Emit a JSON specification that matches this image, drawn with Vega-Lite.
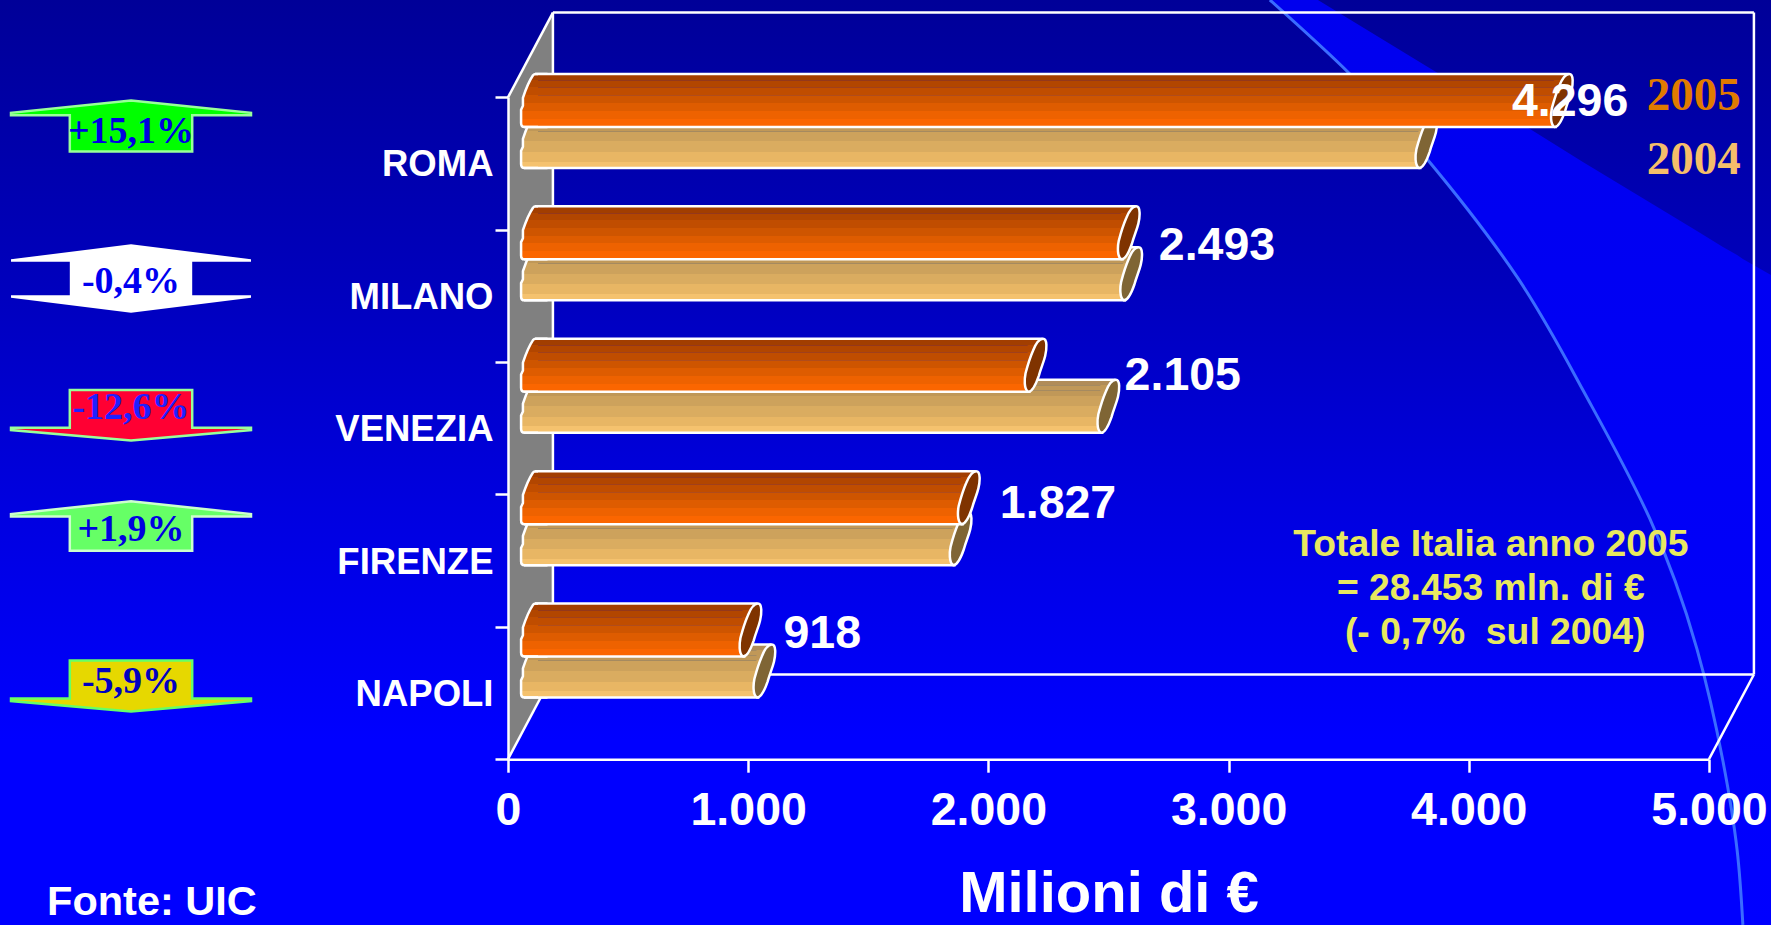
{
"$schema":"https://vega.github.io/schema/vega-lite/v6.json",
"width":1771,"height":925,"padding":0,"autosize":{"type":"none"},
"background":"#0000c0",
"datasets":{
"bars":[
{"city":"ROMA","year":2005,"value":4296,"label":"4.296"},
{"city":"MILANO","year":2005,"value":2493,"label":"2.493"},
{"city":"VENEZIA","year":2005,"value":2105,"label":"2.105"},
{"city":"FIRENZE","year":2005,"value":1827,"label":"1.827"},
{"city":"NAPOLI","year":2005,"value":918,"label":"918"},
{"city":"ROMA","year":2004,"value":3732},
{"city":"MILANO","year":2004,"value":2503},
{"city":"VENEZIA","year":2004,"value":2408},
{"city":"FIRENZE","year":2004,"value":1793},
{"city":"NAPOLI","year":2004,"value":976}
],
"notes":[
{"city":"ROMA","delta":"+15,1%","value":-1569.5},
{"city":"MILANO","delta":"-0,4%","value":-1569.5},
{"city":"VENEZIA","delta":"-12,6%","value":-1569.5},
{"city":"FIRENZE","delta":"+1,9%","value":-1569.5},
{"city":"NAPOLI","delta":"-5,9%","value":-1569.5}
],
"frame":[
{"seg":"top","o":0,"x":187,"y":5.64},{"seg":"top","o":1,"x":5187,"y":5.64},
{"seg":"right","o":0,"x":5187,"y":5.64},{"seg":"right","o":1,"x":5187,"y":0.64},
{"seg":"floor","o":0,"x":187,"y":0.64},{"seg":"floor","o":1,"x":5187,"y":0.64},
{"seg":"back","o":0,"x":187,"y":5.64},{"seg":"back","o":1,"x":187,"y":0.64},
{"seg":"d1","o":0,"x":0,"y":5},{"seg":"d1","o":1,"x":187,"y":5.64},
{"seg":"d2","o":0,"x":0,"y":0},{"seg":"d2","o":1,"x":187,"y":0.64},
{"seg":"d3","o":0,"x":5000,"y":0},{"seg":"d3","o":1,"x":5187,"y":0.64}
],
"wall":[{"x":0,"y":0,"y2":5},{"x":187,"y":0.64,"y2":5.64}],
"bright":[
{"x":3172,"y":5.735,"y2":5.735},{"x":3372,"y":5.735,"y2":5.40},{"x":3505,"y":5.587,"y2":5.176},
{"x":3826,"y":5.233,"y2":4.534},{"x":4201,"y":4.821,"y2":3.643},{"x":4475,"y":4.511,"y2":2.789},
{"x":4754,"y":4.205,"y2":1.815},{"x":4950,"y":3.99,"y2":0.832},{"x":5058,"y":3.869,"y2":-0.014},
{"x":5117,"y":3.809,"y2":-0.686},{"x":5141,"y":3.778,"y2":-1.252},{"x":5258,"y":3.657,"y2":-1.252}
],
"arc":[
{"x":3172,"y":5.735},{"x":3505,"y":5.176},{"x":3826,"y":4.534},{"x":4201,"y":3.643},{"x":4475,"y":2.789},
{"x":4754,"y":1.815},{"x":4950,"y":0.832},{"x":5058,"y":-0.014},{"x":5117,"y":-0.686},{"x":5141,"y":-1.252}
]
},
"resolve":{"scale":{"y":"independent"},"axis":{"x":"independent"}},
"layer":[
{"data":{"values":[{}]},"mark":{"type":"rect","fill":{"gradient":"linear","x1":0,"y1":0,"x2":0,"y2":1,"stops":[{"offset":0,"color":"#000098"},{"offset":0.3,"color":"#0000BC"},{"offset":0.55,"color":"#0000E0"},{"offset":0.8,"color":"#0000FF"},{"offset":1,"color":"#0000FF"}]}}},
{"encoding":{
"x":{"field":"x","type":"quantitative","scale":{"domain":[0,5000],"range":[508,1709],"nice":false,"zero":false},"axis":null},
"y":{"field":"y","type":"quantitative","scale":{"domain":[0,5],"range":[759.2,97.3],"nice":false,"zero":false},"axis":null}},
"layer":[
{"data":{"name":"bright"},"mark":{"type":"area","fill":{"gradient":"linear","x1":0,"y1":0,"x2":0,"y2":1,"stops":[{"offset":0,"color":"#0000EE"},{"offset":1,"color":"#0000FF"}]}},"encoding":{"y2":{"field":"y2"}}},
{"data":{"name":"arc"},"mark":{"type":"line","color":"#3A6CFF","strokeWidth":3,"interpolate":"natural"}},
{"data":{"name":"wall"},"mark":{"type":"area","color":"#808080"},"encoding":{"y2":{"field":"y2"}}},
{"data":{"name":"frame"},"mark":{"type":"line","color":"#FFFFFF","strokeWidth":2.5},"encoding":{"detail":{"field":"seg"},"order":{"field":"o"}}},
{"data":{"values":[{"x":4937,"y":5.01,"t":"2005"}]},"mark":{"type":"text","font":"Liberation Serif","fontWeight":"bold","fontSize":47,"color":"#E07B00","align":"center","baseline":"middle"},"encoding":{"text":{"field":"t"}}},
{"data":{"values":[{"x":4937,"y":4.527,"t":"2004"}]},"mark":{"type":"text","font":"Liberation Serif","fontWeight":"bold","fontSize":47,"color":"#F5BE6A","align":"center","baseline":"middle"},"encoding":{"text":{"field":"t"}}},
{"data":{"values":[{"x":4092,"y":1.618,"t":"Totale Italia anno 2005"},{"x":4092,"y":1.286,"t":"= 28.453 mln. di €"},{"x":4110,"y":0.954,"t":"(- 0,7%\u00a0 sul 2004)"}]},"mark":{"type":"text","font":"Liberation Sans","fontWeight":"bold","fontSize":37.3,"color":"#E8E860","align":"center","baseline":"middle"},"encoding":{"text":{"field":"t"}}},
{"data":{"values":[{"x":-1919,"y":-1.09,"t":"Fonte: UIC"}]},"mark":{"type":"text","font":"Liberation Sans","fontWeight":"bold","fontSize":41.5,"color":"#FFFFFF","align":"left","baseline":"middle"},"encoding":{"text":{"field":"t"}}}
]},
{"data":{"name":"bars"},
"encoding":{
"x":{"field":"value","type":"quantitative","scale":{"domain":[0,5000],"range":[508,1709],"nice":false,"zero":false},"axis":null},
"x2":{"datum":0},
"y":{"field":"city","type":"nominal","sort":null,"scale":{"domain":["ROMA","MILANO","VENEZIA","FIRENZE","NAPOLI"],"range":[97.3,759.2],"paddingInner":0,"paddingOuter":0},
"axis":{"title":null,"orient":"left","offset":-508,"tickBand":"extent","tickSize":13,"tickWidth":2.5,"tickColor":"#FFFFFF","domainColor":"#FFFFFF","domainWidth":2.5,"grid":false,"labelColor":"#FFFFFF","labelFont":"Liberation Sans","labelFontWeight":"bold","labelFontSize":36.5,"labelPadding":2,"labelOffset":1.5,"labelOverlap":false,"labelBound":false,"zindex":1}}},
"layer":[
{"transform":[{"filter":"datum.year==2004"}],"layer":[
{"mark":{"type":"point","shape":"M-0.32 1 Q-0.45 1 -0.45 0.85 L-0.45 0.35 L-0.38 0.2 L-0.38 -0.1 Q-0.2 -0.65 0 -0.95 Q0.04 -1 0.1 -1 L0.5 -1 L0.5 1 Z","size":2809,"opacity":1,"filled":true,"fill":{"gradient":"linear","x1":0,"y1":0,"x2":0,"y2":1,"stops":[{"offset":0,"color":"#B08C58"},{"offset":0.1,"color":"#B08C58"},{"offset":0.1,"color":"#C09858"},{"offset":0.3,"color":"#C09858"},{"offset":0.3,"color":"#CDA25C"},{"offset":0.5,"color":"#CDA25C"},{"offset":0.5,"color":"#DAAC60"},{"offset":0.7,"color":"#DAAC60"},{"offset":0.7,"color":"#E8B664"},{"offset":0.88,"color":"#E8B664"},{"offset":0.88,"color":"#F5C26E"},{"offset":1,"color":"#F5C26E"}]},"stroke":"#FFFFFF","strokeWidth":2.5,"xOffset":25,"yOffset":-22},"encoding":{"x":{"datum":0,"type":"quantitative","scale":{"domain":[0,5000],"range":[508,1709],"nice":false,"zero":false},"axis":null},"x2":null}},
{"mark":{"type":"bar","height":53,"xOffset":16,"x2Offset":30,"yOffset":-22,"cornerRadius":0,"fill":{"gradient":"linear","x1":0,"y1":0,"x2":0,"y2":1,"stops":[{"offset":0,"color":"#B08C58"},{"offset":0.1,"color":"#B08C58"},{"offset":0.1,"color":"#A58A60"},{"offset":0.115,"color":"#A58A60"},{"offset":0.115,"color":"#C09858"},{"offset":0.2,"color":"#C09858"},{"offset":0.2,"color":"#A58A60"},{"offset":0.215,"color":"#A58A60"},{"offset":0.215,"color":"#C09858"},{"offset":0.3,"color":"#C09858"},{"offset":0.3,"color":"#A58A60"},{"offset":0.315,"color":"#A58A60"},{"offset":0.315,"color":"#CDA25C"},{"offset":0.5,"color":"#CDA25C"},{"offset":0.5,"color":"#DAAC60"},{"offset":0.7,"color":"#DAAC60"},{"offset":0.7,"color":"#E8B664"},{"offset":0.88,"color":"#E8B664"},{"offset":0.88,"color":"#F5C26E"},{"offset":1,"color":"#F5C26E"}]}}},
{"mark":{"type":"point","shape":"M-0.3 1 L-0.3 -1 L0.3 -1 L-0.28 1 Z","size":2809,"opacity":1,"filled":true,"fill":{"gradient":"linear","x1":0,"y1":0,"x2":0,"y2":1,"stops":[{"offset":0,"color":"#B08C58"},{"offset":0.1,"color":"#B08C58"},{"offset":0.1,"color":"#C09858"},{"offset":0.3,"color":"#C09858"},{"offset":0.3,"color":"#CDA25C"},{"offset":0.5,"color":"#CDA25C"},{"offset":0.5,"color":"#DAAC60"},{"offset":0.7,"color":"#DAAC60"},{"offset":0.7,"color":"#E8B664"},{"offset":0.88,"color":"#E8B664"},{"offset":0.88,"color":"#F5C26E"},{"offset":1,"color":"#F5C26E"}]},"strokeWidth":0,"xOffset":22,"yOffset":-22},"encoding":{"x2":null}},
{"mark":{"type":"rule","color":"#FFFFFF","strokeWidth":2.5,"xOffset":29,"x2Offset":27,"yOffset":-48.5}},
{"mark":{"type":"rule","color":"#FFFFFF","strokeWidth":2.5,"xOffset":17,"x2Offset":16,"yOffset":4.5}},
{"mark":{"type":"point","shape":"M-0.28 1 C-0.45 0.9 -0.42 0.5 -0.38 0.3 C-0.3 0 -0.25 -0.2 -0.1 -0.55 C0 -0.8 0.12 -1 0.28 -1 C0.45 -1 0.42 -0.6 0.36 -0.35 C0.3 -0.1 0.2 0.1 0.12 0.4 C0 0.75 -0.12 1 -0.28 1 Z","size":2809,"opacity":1,"filled":true,"fill":"#7F6535","stroke":"#FFFFFF","strokeWidth":2.5,"xOffset":22,"yOffset":-22},"encoding":{"x2":null}}
]},
{"transform":[{"filter":"datum.year==2005"}],"layer":[
{"mark":{"type":"point","shape":"M-0.32 1 Q-0.45 1 -0.45 0.85 L-0.45 0.35 L-0.38 0.2 L-0.38 -0.1 Q-0.2 -0.65 0 -0.95 Q0.04 -1 0.1 -1 L0.5 -1 L0.5 1 Z","size":2809,"opacity":1,"filled":true,"fill":{"gradient":"linear","x1":0,"y1":0,"x2":0,"y2":1,"stops":[{"offset":0,"color":"#A23E00"},{"offset":0.12,"color":"#A23E00"},{"offset":0.12,"color":"#B24600"},{"offset":0.25,"color":"#B24600"},{"offset":0.25,"color":"#C04D00"},{"offset":0.4,"color":"#C04D00"},{"offset":0.4,"color":"#CE5500"},{"offset":0.55,"color":"#CE5500"},{"offset":0.55,"color":"#DE5C00"},{"offset":0.7,"color":"#DE5C00"},{"offset":0.7,"color":"#EE6200"},{"offset":0.85,"color":"#EE6200"},{"offset":0.85,"color":"#FB6600"},{"offset":1,"color":"#FB6600"}]},"stroke":"#FFFFFF","strokeWidth":2.5,"xOffset":25,"yOffset":-63},"encoding":{"x":{"datum":0,"type":"quantitative","scale":{"domain":[0,5000],"range":[508,1709],"nice":false,"zero":false},"axis":null},"x2":null}},
{"mark":{"type":"bar","height":53,"xOffset":16,"x2Offset":30,"yOffset":-63,"cornerRadius":0,"fill":{"gradient":"linear","x1":0,"y1":0,"x2":0,"y2":1,"stops":[{"offset":0,"color":"#A23E00"},{"offset":0.12,"color":"#A23E00"},{"offset":0.12,"color":"#94381C"},{"offset":0.135,"color":"#94381C"},{"offset":0.135,"color":"#B24600"},{"offset":0.25,"color":"#B24600"},{"offset":0.25,"color":"#A0401C"},{"offset":0.265,"color":"#A0401C"},{"offset":0.265,"color":"#C04D00"},{"offset":0.4,"color":"#C04D00"},{"offset":0.4,"color":"#B04C1C"},{"offset":0.415,"color":"#B04C1C"},{"offset":0.415,"color":"#CE5500"},{"offset":0.55,"color":"#CE5500"},{"offset":0.55,"color":"#DE5C00"},{"offset":0.7,"color":"#DE5C00"},{"offset":0.7,"color":"#EE6200"},{"offset":0.85,"color":"#EE6200"},{"offset":0.85,"color":"#FB6600"},{"offset":1,"color":"#FB6600"}]}}},
{"mark":{"type":"point","shape":"M-0.3 1 L-0.3 -1 L0.3 -1 L-0.28 1 Z","size":2809,"opacity":1,"filled":true,"fill":{"gradient":"linear","x1":0,"y1":0,"x2":0,"y2":1,"stops":[{"offset":0,"color":"#A23E00"},{"offset":0.12,"color":"#A23E00"},{"offset":0.12,"color":"#B24600"},{"offset":0.25,"color":"#B24600"},{"offset":0.25,"color":"#C04D00"},{"offset":0.4,"color":"#C04D00"},{"offset":0.4,"color":"#CE5500"},{"offset":0.55,"color":"#CE5500"},{"offset":0.55,"color":"#DE5C00"},{"offset":0.7,"color":"#DE5C00"},{"offset":0.7,"color":"#EE6200"},{"offset":0.85,"color":"#EE6200"},{"offset":0.85,"color":"#FB6600"},{"offset":1,"color":"#FB6600"}]},"strokeWidth":0,"xOffset":22,"yOffset":-63},"encoding":{"x2":null}},
{"mark":{"type":"rule","color":"#FFFFFF","strokeWidth":2.5,"xOffset":29,"x2Offset":27,"yOffset":-89.5}},
{"mark":{"type":"rule","color":"#FFFFFF","strokeWidth":2.5,"xOffset":17,"x2Offset":16,"yOffset":-36.5}},
{"mark":{"type":"point","shape":"M-0.28 1 C-0.45 0.9 -0.42 0.5 -0.38 0.3 C-0.3 0 -0.25 -0.2 -0.1 -0.55 C0 -0.8 0.12 -1 0.28 -1 C0.45 -1 0.42 -0.6 0.36 -0.35 C0.3 -0.1 0.2 0.1 0.12 0.4 C0 0.75 -0.12 1 -0.28 1 Z","size":2809,"opacity":1,"filled":true,"fill":"#7F3300","stroke":"#FFFFFF","strokeWidth":2.5,"xOffset":22,"yOffset":-63},"encoding":{"x2":null}},
{"transform":[{"filter":"datum.city=='ROMA'"}],"mark":{"type":"text","font":"Liberation Sans","fontWeight":"bold","fontSize":46.5,"color":"#FFFFFF","align":"left","baseline":"middle","dx":-28,"dy":-61},"encoding":{"x2":null,"text":{"field":"label"}}},
{"transform":[{"filter":"datum.city=='MILANO'"}],"mark":{"type":"text","font":"Liberation Sans","fontWeight":"bold","fontSize":46.5,"color":"#FFFFFF","align":"left","baseline":"middle","dx":52,"dy":-50},"encoding":{"x2":null,"text":{"field":"label"}}},
{"transform":[{"filter":"datum.city=='VENEZIA'"}],"mark":{"type":"text","font":"Liberation Sans","fontWeight":"bold","fontSize":46.5,"color":"#FFFFFF","align":"left","baseline":"middle","dx":111,"dy":-52},"encoding":{"x2":null,"text":{"field":"label"}}},
{"transform":[{"filter":"datum.city=='FIRENZE'"}],"mark":{"type":"text","font":"Liberation Sans","fontWeight":"bold","fontSize":46.5,"color":"#FFFFFF","align":"left","baseline":"middle","dx":53,"dy":-57},"encoding":{"x2":null,"text":{"field":"label"}}},
{"transform":[{"filter":"datum.city=='NAPOLI'"}],"mark":{"type":"text","font":"Liberation Sans","fontWeight":"bold","fontSize":46.5,"color":"#FFFFFF","align":"left","baseline":"middle","dx":55,"dy":-59},"encoding":{"x2":null,"text":{"field":"label"}}}
]},
{"data":{"name":"notes"},"encoding":{"x2":null},"layer":[
{"transform":[{"filter":"datum.city=='ROMA'"}],"layer":[
{"mark":{"type":"point","shape":"M0 -0.2125 L1 -0.11 L1 -0.09 L0.51 -0.09 L0.51 0.2125 L-0.51 0.2125 L-0.51 -0.09 L-1 -0.09 L-1 -0.11 Z","size":57600,"opacity":1,"filled":true,"fill":"#00FF00","stroke":"#99FF99","strokeWidth":2.5,"yOffset":-37.5}},
{"mark":{"type":"text","font":"Liberation Serif","fontWeight":"bold","fontSize":38,"color":"#0000E0","align":"center","baseline":"middle","dy":-31.5},"encoding":{"text":{"field":"delta"}}}]},
{"transform":[{"filter":"datum.city=='MILANO'"}],"layer":[
{"mark":{"type":"point","shape":"M0 -0.285 L1 -0.16 L1 -0.14 L0.51 -0.14 L0.51 0.14 L1 0.14 L1 0.16 L0 0.285 L-1 0.16 L-1 0.14 L-0.51 0.14 L-0.51 -0.14 L-1 -0.14 L-1 -0.16 Z","size":57600,"opacity":1,"filled":true,"fill":"#FFFFFF","strokeWidth":0,"yOffset":-17.4}},
{"mark":{"type":"text","font":"Liberation Serif","fontWeight":"bold","fontSize":38,"color":"#0000F0","align":"center","baseline":"middle","dy":-14},"encoding":{"text":{"field":"delta"}}}]},
{"transform":[{"filter":"datum.city=='VENEZIA'"}],"layer":[
{"mark":{"type":"point","shape":"M0 0.2125 L1 0.125 L1 0.105 L0.51 0.105 L0.51 -0.2083 L-0.51 -0.2083 L-0.51 0.105 L-1 0.105 L-1 0.125 Z","size":57600,"opacity":1,"filled":true,"fill":"#FF0033","stroke":"#99FF99","strokeWidth":2.5,"yOffset":-13.2}},
{"mark":{"type":"text","font":"Liberation Serif","fontWeight":"bold","fontSize":38,"color":"#2020FF","align":"center","baseline":"middle","dy":-20},"encoding":{"text":{"field":"delta"}}}]},
{"transform":[{"filter":"datum.city=='FIRENZE'"}],"layer":[
{"mark":{"type":"point","shape":"M0 -0.2063 L1 -0.10 L1 -0.08 L0.51 -0.08 L0.51 0.2063 L-0.51 0.2063 L-0.51 -0.08 L-1 -0.08 L-1 -0.10 Z","size":57600,"opacity":1,"filled":true,"fill":"#66FF66","stroke":"#CCFFCC","strokeWidth":2.5,"yOffset":-34.6}},
{"mark":{"type":"text","font":"Liberation Serif","fontWeight":"bold","fontSize":38,"color":"#0000E0","align":"center","baseline":"middle","dy":-30.6},"encoding":{"text":{"field":"delta"}}}]},
{"transform":[{"filter":"datum.city=='NAPOLI'"}],"layer":[
{"mark":{"type":"point","shape":"M0 0.2125 L1 0.125 L1 0.105 L0.51 0.105 L0.51 -0.2125 L-0.51 -0.2125 L-0.51 0.105 L-1 0.105 L-1 0.125 Z","size":57600,"opacity":1,"filled":true,"fill":"#E6D800","stroke":"#66FF66","strokeWidth":2.5,"yOffset":-7}},
{"mark":{"type":"text","font":"Liberation Serif","fontWeight":"bold","fontSize":38,"color":"#0000C0","align":"center","baseline":"middle","dy":-11},"encoding":{"text":{"field":"delta"}}}]}
]}
]},
{"data":{"name":"bars"},"mark":{"type":"tick","opacity":0},"encoding":{"x":{"field":"value","type":"quantitative","scale":{"domain":[0,5000],"range":[508,1709],"nice":false,"zero":false},
"axis":{"orient":"bottom","values":[0,1000,2000,3000,4000,5000],"labelExpr":"replace(format(datum.value,','),',','.')","title":"Milioni di €","titleFont":"Liberation Sans","titleFontWeight":"bold","titleFontSize":58,"titleColor":"#FFFFFF","titleY":135,"titleBaseline":"middle","titleAnchor":"middle","offset":-165.8,"tickSize":13,"tickWidth":2.5,"tickColor":"#FFFFFF","domainColor":"#FFFFFF","domainWidth":2.5,"grid":false,"labelColor":"#FFFFFF","labelFont":"Liberation Sans","labelFontWeight":"bold","labelFontSize":46.5,"labelPadding":15,"labelFlush":false,"labelOverlap":false,"labelBound":false,"zindex":1}}}}
]
}
